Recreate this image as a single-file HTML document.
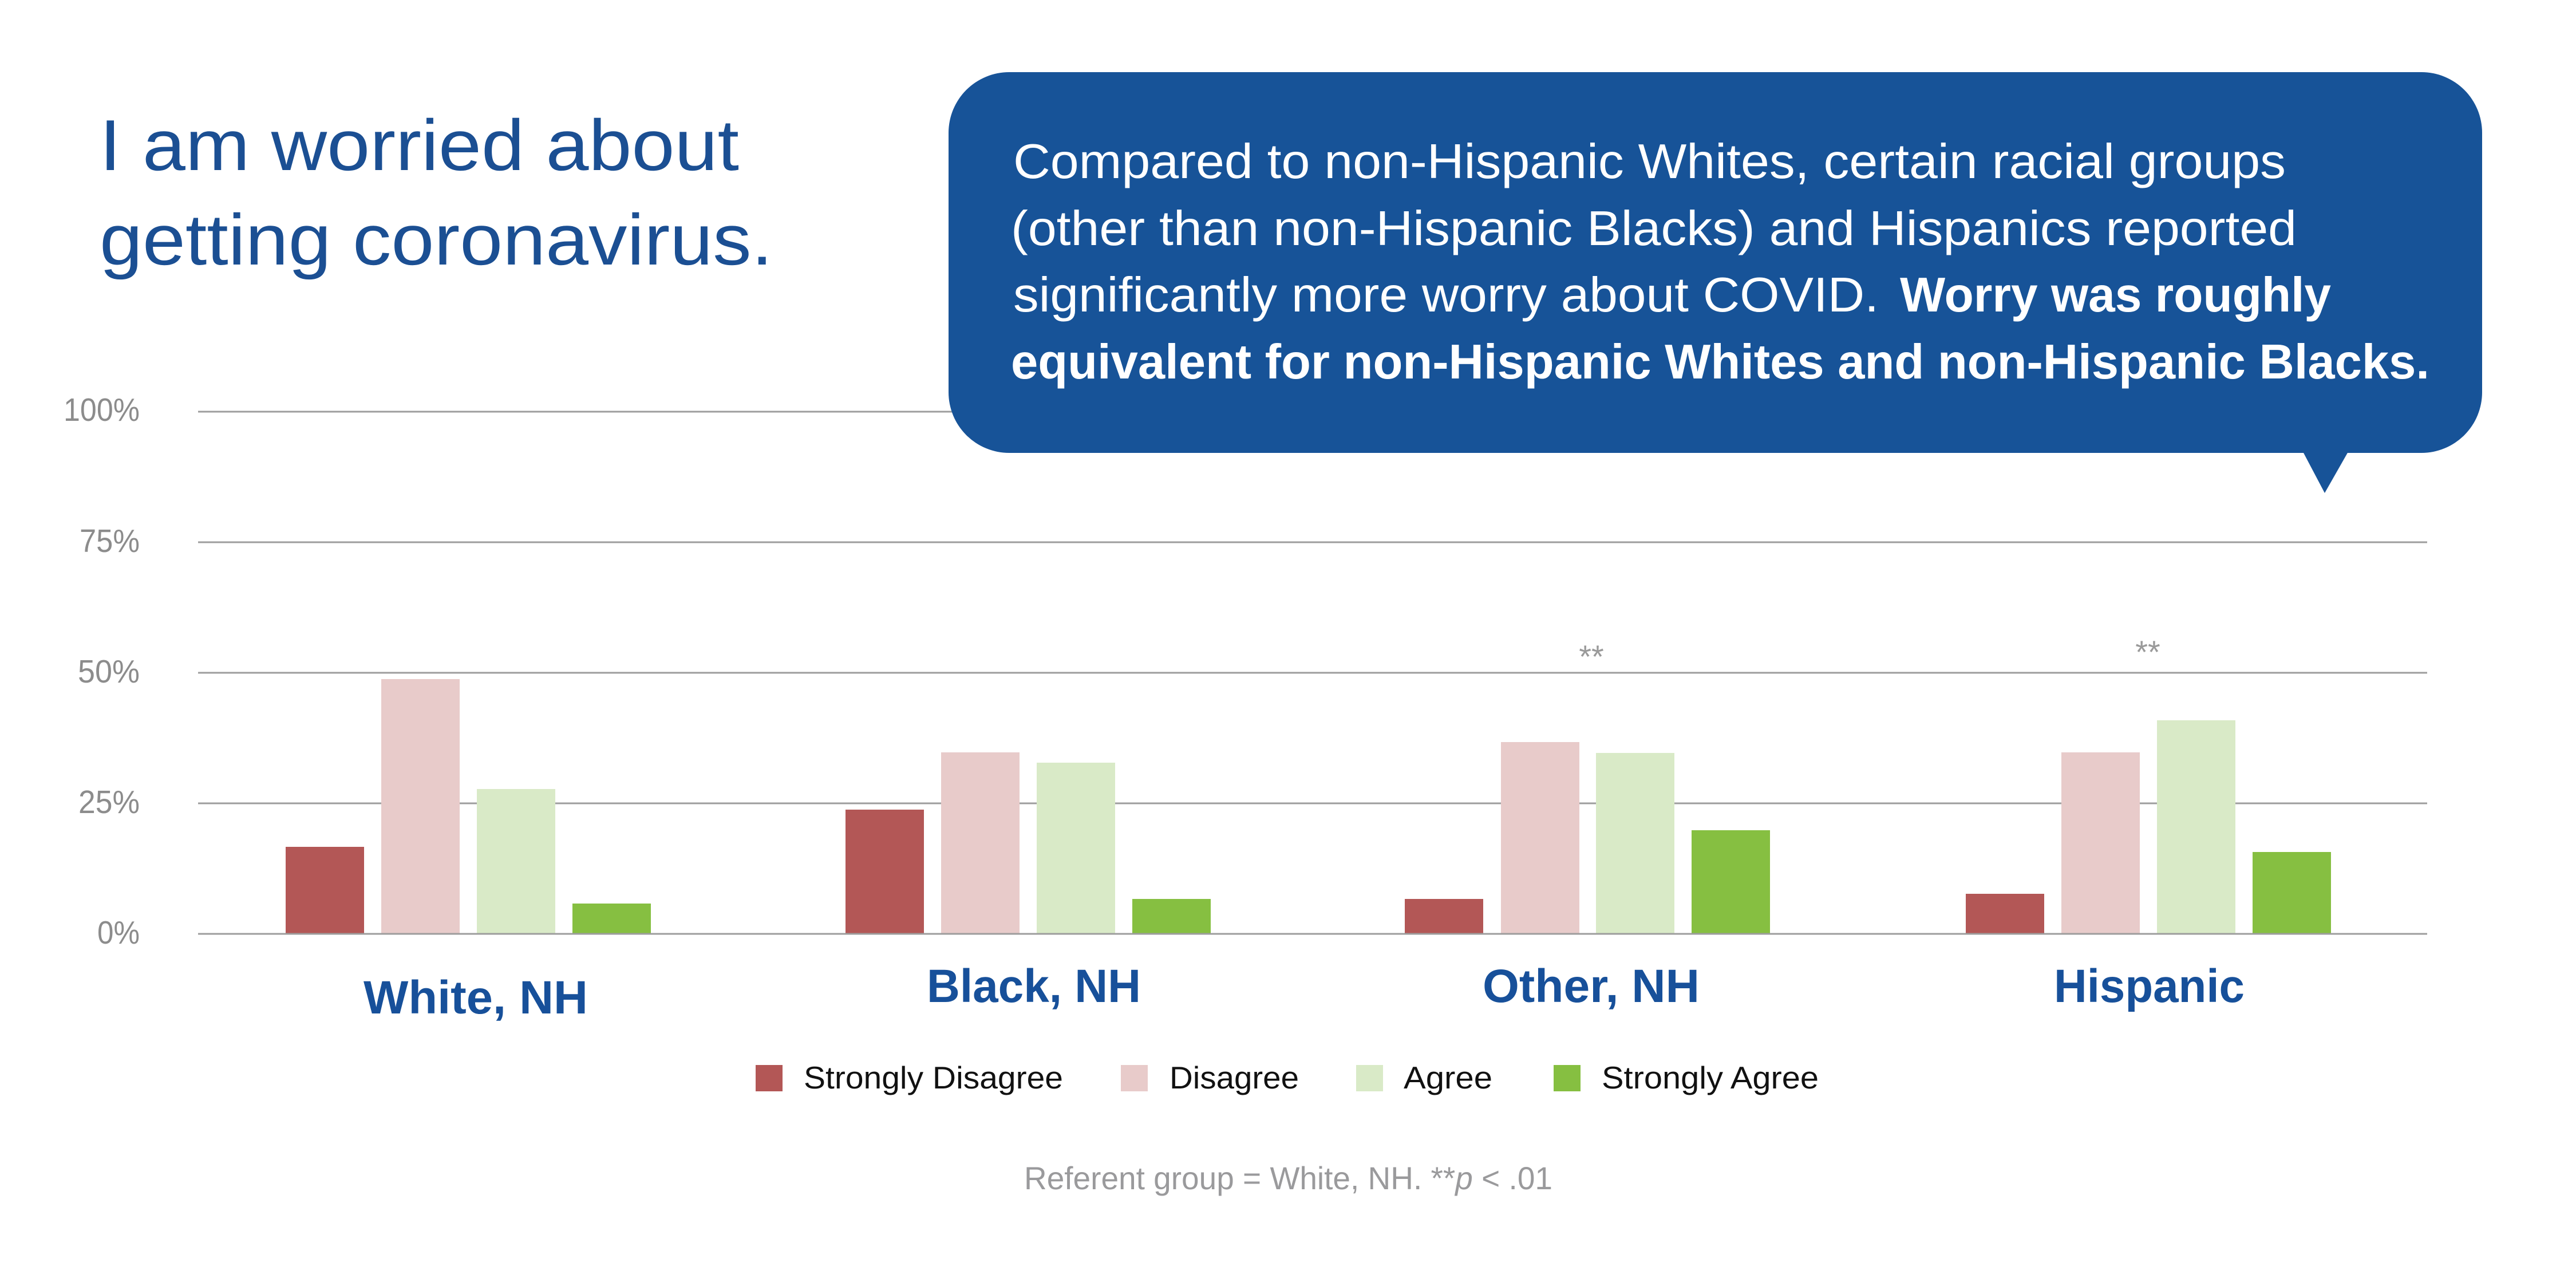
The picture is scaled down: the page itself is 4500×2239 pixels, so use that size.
<!DOCTYPE html>
<html>
<head>
<meta charset="utf-8">
<style>
  html, body { margin:0; padding:0; background:#ffffff; }
  body { width:4500px; height:2239px; overflow:hidden; }
  svg { display:block; }
  text { font-family: "Liberation Sans", Arial, sans-serif; }
</style>
</head>
<body>
<svg width="4500" height="2239" viewBox="0 0 4500 2239" xmlns="http://www.w3.org/2000/svg">
  <rect x="0" y="0" width="4500" height="2239" fill="#ffffff"/>

  <!-- Title -->
  <text x="174" y="297" font-size="126" fill="#1b4f93" textLength="1117" lengthAdjust="spacingAndGlyphs">I am worried about</text>
  <text x="174" y="462" font-size="126" fill="#1b4f93" textLength="1176" lengthAdjust="spacingAndGlyphs">getting coronavirus.</text>

  <!-- Gridlines -->
  <g stroke="#9d9d9d" stroke-width="3">
    <line x1="346" y1="719" x2="4240" y2="719"/>
    <line x1="346" y1="947" x2="4240" y2="947"/>
    <line x1="346" y1="1175" x2="4240" y2="1175"/>
    <line x1="346" y1="1403" x2="4240" y2="1403"/>
  </g>

  <!-- Y labels -->
  <g font-size="57" fill="#8c8c8c" text-anchor="end">
    <text x="244" y="735" textLength="133" lengthAdjust="spacingAndGlyphs">100%</text>
    <text x="244" y="964" textLength="105" lengthAdjust="spacingAndGlyphs">75%</text>
    <text x="244" y="1192" textLength="108" lengthAdjust="spacingAndGlyphs">50%</text>
    <text x="244" y="1420" textLength="107" lengthAdjust="spacingAndGlyphs">25%</text>
    <text x="244" y="1648" textLength="74" lengthAdjust="spacingAndGlyphs">0%</text>
  </g>

  <!-- Speech bubble -->
  <rect x="1657" y="126" width="2679" height="665" rx="106" ry="106" fill="#175398"/>
  <polygon points="4023,789 4102,789 4061,861" fill="#175398"/>

  <g fill="#ffffff" font-size="85">
    <text x="1770" y="311" textLength="2223" lengthAdjust="spacingAndGlyphs">Compared to non-Hispanic Whites, certain racial groups</text>
    <text x="1766" y="428" textLength="2246" lengthAdjust="spacingAndGlyphs">(other than non-Hispanic Blacks) and Hispanics reported</text>
    <text x="1770" y="544" textLength="1512" lengthAdjust="spacingAndGlyphs">significantly more worry about COVID.</text>
    <text x="3319" y="544" font-weight="bold" textLength="753" lengthAdjust="spacingAndGlyphs">Worry was roughly</text>
    <text x="1766" y="661" font-weight="bold" textLength="2478" lengthAdjust="spacingAndGlyphs">equivalent for non-Hispanic Whites and non-Hispanic Blacks.</text>
  </g>

  <!-- Bars -->
  <!-- Group 1: White, NH -->
  <rect x="499" y="1479" width="137" height="152" fill="#b35756"/>
  <rect x="666" y="1186" width="137" height="445" fill="#e8cbca"/>
  <rect x="833" y="1378" width="137" height="253" fill="#d9eac7"/>
  <rect x="1000" y="1578" width="137" height="53" fill="#86bf41"/>
  <!-- Group 2: Black, NH -->
  <rect x="1477" y="1414" width="137" height="217" fill="#b35756"/>
  <rect x="1644" y="1314" width="137" height="317" fill="#e8cbca"/>
  <rect x="1811" y="1332" width="137" height="299" fill="#d9eac7"/>
  <rect x="1978" y="1570" width="137" height="61" fill="#86bf41"/>
  <!-- Group 3: Other, NH -->
  <rect x="2454" y="1570" width="137" height="61" fill="#b35756"/>
  <rect x="2622" y="1296" width="137" height="335" fill="#e8cbca"/>
  <rect x="2788" y="1315" width="137" height="316" fill="#d9eac7"/>
  <rect x="2955" y="1450" width="137" height="181" fill="#86bf41"/>
  <!-- Group 4: Hispanic -->
  <rect x="3434" y="1561" width="137" height="70" fill="#b35756"/>
  <rect x="3601" y="1314" width="137" height="317" fill="#e8cbca"/>
  <rect x="3768" y="1258" width="137" height="373" fill="#d9eac7"/>
  <rect x="3935" y="1488" width="137" height="143" fill="#86bf41"/>

  <!-- Baseline axis -->
  <line x1="346" y1="1631" x2="4240" y2="1631" stroke="#9d9d9d" stroke-width="3"/>

  <!-- Significance markers -->
  <g font-size="56" fill="#9a9a9a" text-anchor="middle">
    <text x="2780" y="1166">**</text>
    <text x="3752" y="1158">**</text>
  </g>

  <!-- Category labels -->
  <g font-size="82" font-weight="bold" fill="#17509a">
    <text x="635" y="1770" textLength="392" lengthAdjust="spacingAndGlyphs">White, NH</text>
    <text x="1619" y="1750" textLength="374" lengthAdjust="spacingAndGlyphs">Black, NH</text>
    <text x="2590" y="1750" textLength="379" lengthAdjust="spacingAndGlyphs">Other, NH</text>
    <text x="3588" y="1750" textLength="333" lengthAdjust="spacingAndGlyphs">Hispanic</text>
  </g>

  <!-- Legend -->
  <rect x="1320" y="1860" width="47" height="46" fill="#b35756"/>
  <rect x="1958" y="1860" width="47" height="46" fill="#e8cbca"/>
  <rect x="2369" y="1860" width="47" height="46" fill="#d9eac7"/>
  <rect x="2714" y="1860" width="47" height="46" fill="#86bf41"/>
  <g font-size="55" fill="#111111">
    <text x="1404" y="1901" textLength="453" lengthAdjust="spacingAndGlyphs">Strongly Disagree</text>
    <text x="2043" y="1901" textLength="226" lengthAdjust="spacingAndGlyphs">Disagree</text>
    <text x="2452" y="1901" textLength="155" lengthAdjust="spacingAndGlyphs">Agree</text>
    <text x="2798" y="1901" textLength="379" lengthAdjust="spacingAndGlyphs">Strongly Agree</text>
  </g>

  <!-- Footnote -->
  <text x="1789" y="2077" font-size="56" fill="#9a9a9c" textLength="923" lengthAdjust="spacingAndGlyphs">Referent group = White, NH. **<tspan font-style="italic">p</tspan> &lt; .01</text>
</svg>
</body>
</html>
